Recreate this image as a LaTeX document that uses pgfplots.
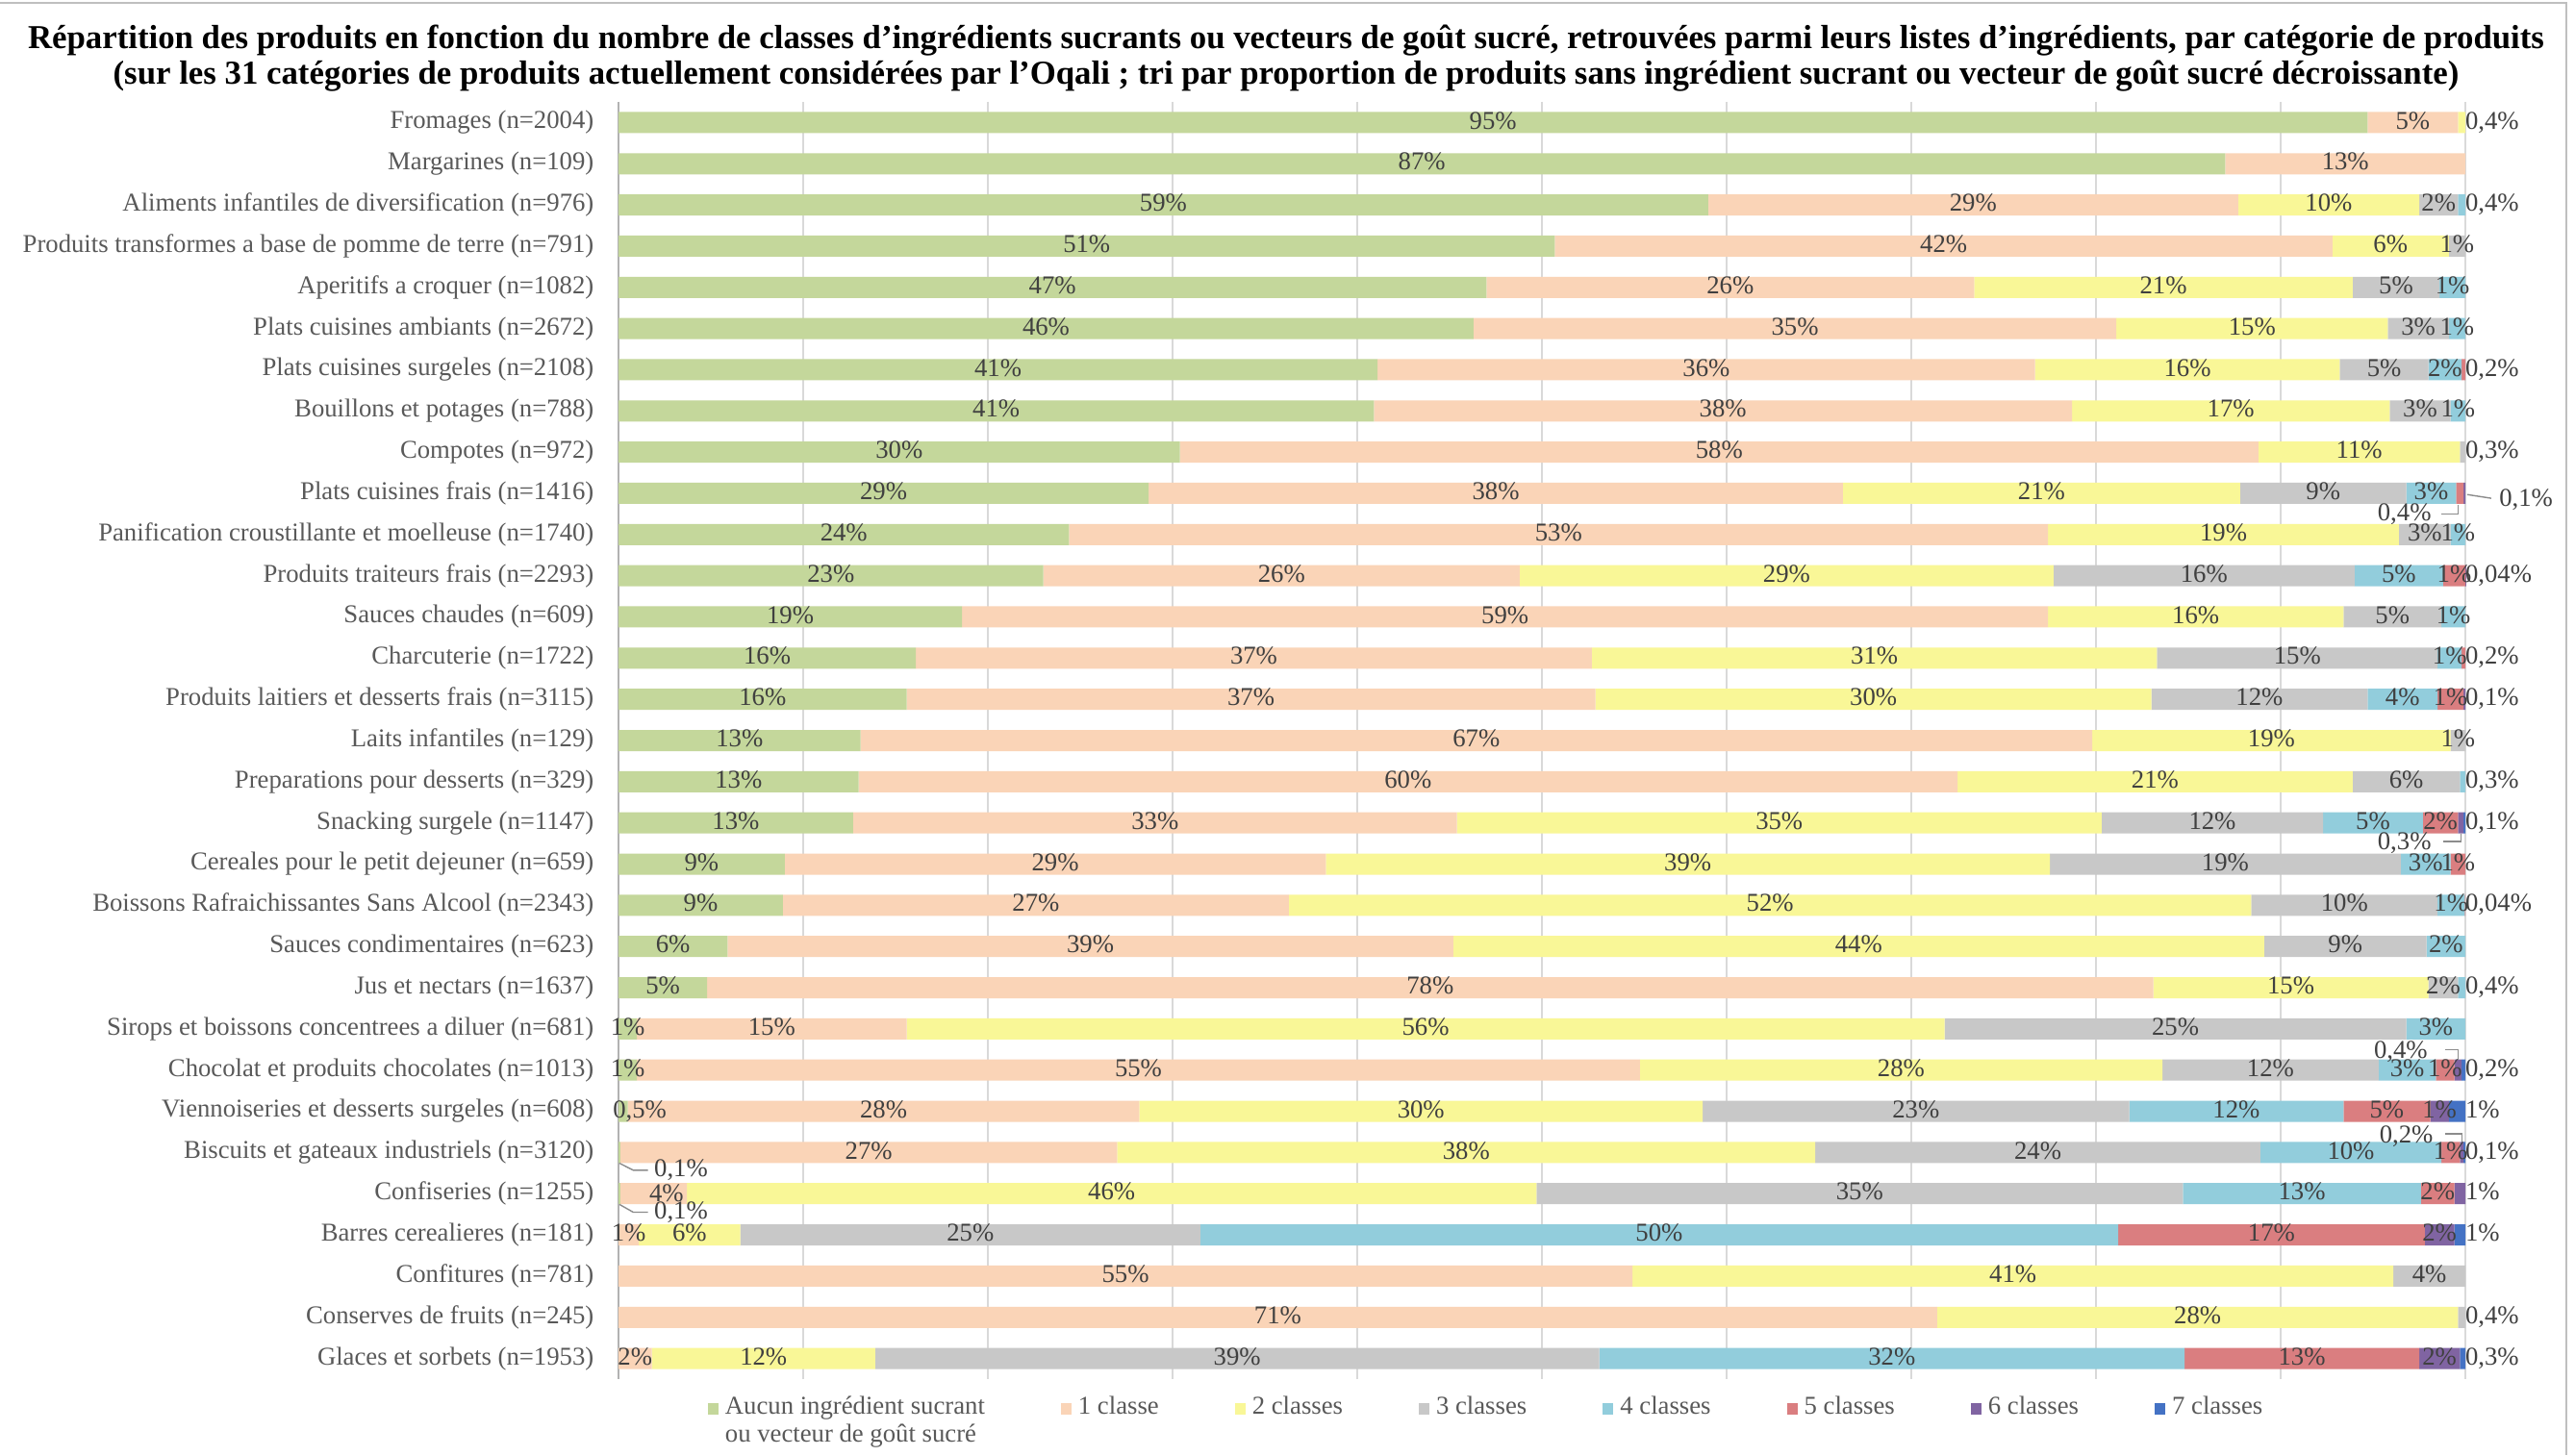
\documentclass[border=0pt]{standalone}
\usepackage{pgfplots}
\usepackage{pgfplotstable}
\pgfplotsset{compat=1.18}
\usepackage{fontspec}
\setmainfont{Liberation Serif}
\definecolor{c0}{RGB}{196,215,155}
\definecolor{c1}{RGB}{250,212,183}
\definecolor{c2}{RGB}{249,247,151}
\definecolor{c3}{RGB}{200,200,200}
\definecolor{c4}{RGB}{146,205,220}
\definecolor{c5}{RGB}{218,126,128}
\definecolor{c6}{RGB}{128,100,162}
\definecolor{c7}{RGB}{68,114,196}
\newcommand{\lf}{\fontsize{7.6}{8.3}\selectfont}
\pgfplotstableread{
i a0 a1 a2 a3 a4 a5 a6 a7 r l0 l1 l2 l3 l4 l5 l6 l7 l8
0 94.7 4.9 0.4 0 0 0 0 0 100 95 5 {} {} {} {} {} {} 0,4
1 87.0 13.0 0 0 0 0 0 0 100 87 13 {} {} {} {} {} {} {}
2 59.0 28.7 9.8 2.1 0.4 0 0 0 100 59 29 10 2 {} {} {} {} 0,4
3 50.7 42.1 6.3 0.9 0 0 0 0 100 51 42 6 1 {} {} {} {} {}
4 47.0 26.4 20.5 4.7 1.4 0 0 0 100 47 26 21 5 1 {} {} {} {}
5 46.3 34.8 14.7 3.3 0.9 0 0 0 100 46 35 15 3 1 {} {} {} {}
6 41.1 35.6 16.5 4.8 1.8 0.2 0 0 100 41 36 16 5 2 {} {} {} 0,2
7 40.9 37.8 17.2 3.3 0.8 0 0 0 100 41 38 17 3 1 {} {} {} {}
8 30.4 58.4 10.9 0.3 0 0 0 0 100 30 58 11 {} {} {} {} {} 0,3
9 28.7 37.6 21.5 9.0 2.7 0.4 0.1 0 100 29 38 21 9 3 {} {} {} {}
10 24.4 53.0 19.0 2.8 0.8 0 0 0 100 24 53 19 3 1 {} {} {} {}
11 23.0 25.8 28.9 16.3 4.8 1.2 0.04 0 100 23 26 29 16 5 1 {} {} 0,04
12 18.6 58.8 16.0 5.3 1.3 0 0 0 100 19 59 16 5 1 {} {} {} {}
13 16.1 36.6 30.6 15.2 1.3 0.2 0 0 100 16 37 31 15 1 {} {} {} 0,2
14 15.6 37.3 30.1 11.7 3.8 1.4 0.1 0 100 16 37 30 12 4 1 {} {} 0,1
15 13.1 66.7 19.4 0.8 0 0 0 0 100 13 67 19 1 {} {} {} {} {}
16 13.0 59.5 21.4 5.8 0.3 0 0 0 100 13 60 21 6 {} {} {} {} 0,3
17 12.7 32.7 34.9 12.0 5.4 1.9 0.3 0.1 100 13 33 35 12 5 2 {} {} 0,1
18 9.0 29.3 39.2 19.0 2.7 0.8 0 0 100 9 29 39 19 3 1 {} {} {}
19 8.9 27.4 52.1 10.1 1.46 0.04 0 0 100 9 27 52 10 1 {} {} {} 0,04
20 5.9 39.3 43.9 8.8 2.1 0 0 0 100 6 39 44 9 2 {} {} {} {}
21 4.8 78.3 14.9 1.6 0.4 0 0 0 100 5 78 15 2 {} {} {} {} 0,4
22 1.0 14.6 56.2 25.0 3.2 0 0 0 100 1 15 56 25 3 {} {} {} {}
23 1.0 54.3 28.3 11.7 3.1 1.0 0.4 0.2 100 1 55 28 12 3 1 {} {} 0,2
24 0.5 27.7 30.5 23.1 11.6 4.7 1.0 0.9 100 {} 28 30 23 12 5 1 {} 1
25 0.1 26.9 37.8 24.1 9.8 1.0 0.2 0.1 100 {} 27 38 24 10 1 {} {} 0,1
26 0.1 3.6 46.0 35.0 12.9 1.8 0.6 0 100 {} {} 46 35 13 2 {} {} 1
27 0 1.1 5.5 24.9 49.7 16.6 1.6 0.6 100 {} 1 6 25 50 17 2 {} 1
28 0 54.9 41.2 3.9 0 0 0 0 100 {} 55 41 4 {} {} {} {} {}
29 0 71.4 28.2 0.4 0 0 0 0 100 {} 71 28 {} {} {} {} {} 0,4
30 0 1.8 12.1 39.2 31.7 12.7 2.2 0.3 100 {} 2 12 39 32 13 2 {} 0,3
}\data
% segment centres (for the value labels)
\pgfplotstablecreatecol[create col/expr={\thisrow{a0}/2}]{m0}{\data}
\pgfplotstablecreatecol[create col/expr={\thisrow{a0}+\thisrow{a1}/2}]{m1}{\data}
\pgfplotstablecreatecol[create col/expr={\thisrow{a0}+\thisrow{a1}+\thisrow{a2}/2}]{m2}{\data}
\pgfplotstablecreatecol[create col/expr={\thisrow{a0}+\thisrow{a1}+\thisrow{a2}+\thisrow{a3}/2}]{m3}{\data}
\pgfplotstablecreatecol[create col/expr={\thisrow{a0}+\thisrow{a1}+\thisrow{a2}+\thisrow{a3}+\thisrow{a4}/2}]{m4}{\data}
\pgfplotstablecreatecol[create col/expr={\thisrow{a0}+\thisrow{a1}+\thisrow{a2}+\thisrow{a3}+\thisrow{a4}+\thisrow{a5}/2}]{m5}{\data}
\pgfplotstablecreatecol[create col/expr={\thisrow{a0}+\thisrow{a1}+\thisrow{a2}+\thisrow{a3}+\thisrow{a4}+\thisrow{a5}+\thisrow{a6}/2}]{m6}{\data}
\pgfplotstablecreatecol[create col/expr={\thisrow{a0}+\thisrow{a1}+\thisrow{a2}+\thisrow{a3}+\thisrow{a4}+\thisrow{a5}+\thisrow{a6}+\thisrow{a7}/2}]{m7}{\data}
\pgfplotsset{
  lab/.style={draw=none, mark=none, point meta=explicit symbolic,
    nodes near coords={\setbox0\hbox{\pgfplotspointmeta}\ifdim\wd0>0pt\smash{\makebox[0pt][#1]{\raisebox{-0.34em}{\pgfplotspointmeta\%}}}\fi},
    every node near coord/.style={font=\lf, text=black!75, inner sep=0pt}},
  geom/.style={at={(6.43cm,0.79cm)}, anchor=south west,
    width=19.2cm, height=13.28cm, scale only axis,
    xmin=0, xmax=100, ymin=-0.5, ymax=30.5, y dir=reverse, clip=false},
}
\begin{document}
\begin{tikzpicture}
\useasboundingbox (0,0) rectangle (26.77cm,15.13cm);
\fill[white] (0,0) rectangle (26.77cm,15.13cm);
\draw[black!25, line width=0.6pt] (0,15.10cm) -- (26.68cm,15.10cm) -- (26.68cm,0);
\node[align=center, font=\fontsize{9.9}{10.6}\selectfont\bfseries] at (13.37cm,14.525cm)
 {Répartition des produits en fonction du nombre de classes d'ingrédients sucrants ou vecteurs de goût sucré, retrouvées parmi leurs listes d'ingrédients, par catégorie de produits\\
 (sur les 31 catégories de produits actuellement considérées par l'Oqali ; tri par proportion de produits sans ingrédient sucrant ou vecteur de goût sucré décroissante)};
\begin{axis}[geom,
  xbar stacked, bar width=0.22cm,
  axis line style={draw=none},
  major tick length=0pt,
  xtick={0,10,...,100}, xticklabels={},
  xmajorgrids, grid style={black!15, line width=0.6pt},
  extra x ticks={0}, extra x tick labels={}, extra x tick style={grid style={black!30, line width=0.6pt}},
  ytick={0,...,30},
  yticklabels={Fromages (n=2004),Margarines (n=109),Aliments infantiles de diversification (n=976),Produits transformes a base de pomme de terre (n=791),Aperitifs a croquer (n=1082),Plats cuisines ambiants (n=2672),Plats cuisines surgeles (n=2108),Bouillons et potages (n=788),Compotes (n=972),Plats cuisines frais (n=1416),Panification croustillante et moelleuse (n=1740),Produits traiteurs frais (n=2293),Sauces chaudes (n=609),Charcuterie (n=1722),Produits laitiers et desserts frais (n=3115),Laits infantiles (n=129),Preparations pour desserts (n=329),Snacking surgele (n=1147),Cereales pour le petit dejeuner (n=659),Boissons Rafraichissantes Sans Alcool (n=2343),Sauces condimentaires (n=623),Jus et nectars (n=1637),Sirops et boissons concentrees a diluer (n=681),Chocolat et produits chocolates (n=1013),Viennoiseries et desserts surgeles (n=608),Biscuits et gateaux industriels (n=3120),Confiseries (n=1255),Barres cerealieres (n=181),Confitures (n=781),Conserves de fruits (n=245),Glaces et sorbets (n=1953)},
  yticklabel style={font=\lf, text=black!65, inner sep=0pt, xshift=-0.25cm},
  legend image code/.code={\fill[#1] (0cm,-0.01cm) rectangle (0.11cm,0.11cm);},
  legend columns=8,
  legend style={draw=none, fill=none, at={(0.048,-0.0074)}, anchor=north west, font=\lf, text=black!65, inner sep=0pt, cells={anchor=base west}, /tikz/every even column/.append style={column sep=0.72cm}},
]
\addplot[fill=c0, draw=none] table[x=a0, y=i] {\data};
\addlegendentry{\vtop{\hbox{Aucun ingrédient sucrant}\hbox{ou vecteur de goût sucré}}}
\addplot[fill=c1, draw=none] table[x=a1, y=i] {\data};
\addlegendentry{1 classe}
\addplot[fill=c2, draw=none] table[x=a2, y=i] {\data};
\addlegendentry{2 classes}
\addplot[fill=c3, draw=none] table[x=a3, y=i] {\data};
\addlegendentry{3 classes}
\addplot[fill=c4, draw=none] table[x=a4, y=i] {\data};
\addlegendentry{4 classes}
\addplot[fill=c5, draw=none] table[x=a5, y=i] {\data};
\addlegendentry{5 classes}
\addplot[fill=c6, draw=none] table[x=a6, y=i] {\data};
\addlegendentry{6 classes}
\addplot[fill=c7, draw=none] table[x=a7, y=i] {\data};
\addlegendentry{7 classes}
\end{axis}
\begin{axis}[geom, hide axis]
\addplot[lab=c] table[x=m0, y=i, meta=l0] {\data};
\addplot[lab=c] table[x=m1, y=i, meta=l1] {\data};
\addplot[lab=c] table[x=m2, y=i, meta=l2] {\data};
\addplot[lab=c] table[x=m3, y=i, meta=l3] {\data};
\addplot[lab=c] table[x=m4, y=i, meta=l4] {\data};
\addplot[lab=c] table[x=m5, y=i, meta=l5] {\data};
\addplot[lab=c] table[x=m6, y=i, meta=l6] {\data};
\addplot[lab=c] table[x=m7, y=i, meta=l7] {\data};
\addplot[lab=l] table[x=r, y=i, meta=l8] {\data};
\begin{scope}[every node/.style={font=\lf, text=black!75, inner sep=0pt}]
\node at (axis cs:96.7,9.5) {0,4\%};
\node[anchor=west] at (axis cs:101.8,9.15) {0,1\%};
\node at (axis cs:96.7,17.49) {0,3\%};
\node at (axis cs:96.5,22.55) {0,4\%};
\node at (axis cs:96.8,24.6) {0,2\%};
\node[anchor=west] at (axis cs:1.9,25.43) {0,1\%};
\node[anchor=west] at (axis cs:1.9,26.45) {0,1\%};
\node at (axis cs:1.15,24) {0,5\%};
\node at (axis cs:2.6,26) {4\%};
\end{scope}
\begin{scope}[black!45, line width=0.4pt]
\draw (axis cs:98.7,9.5) -- (axis cs:99.6,9.5) -- (axis cs:99.6,9.27);
\draw (axis cs:100.1,9.03) -- (axis cs:101.4,9.12);
\draw (axis cs:98.8,17.45) -- (axis cs:99.75,17.45) -- (axis cs:99.75,17.27);
\draw (axis cs:98.9,22.5) -- (axis cs:99.6,22.5) -- (axis cs:99.6,22.74);
\draw (axis cs:98.9,24.55) -- (axis cs:99.8,24.55) -- (axis cs:99.8,24.74);
\draw (axis cs:0.05,25.26) -- (axis cs:0.8,25.43) -- (axis cs:1.6,25.43);
\draw (axis cs:0.05,26.26) -- (axis cs:0.8,26.45) -- (axis cs:1.6,26.45);
\end{scope}
\end{axis}
\end{tikzpicture}
\end{document}
